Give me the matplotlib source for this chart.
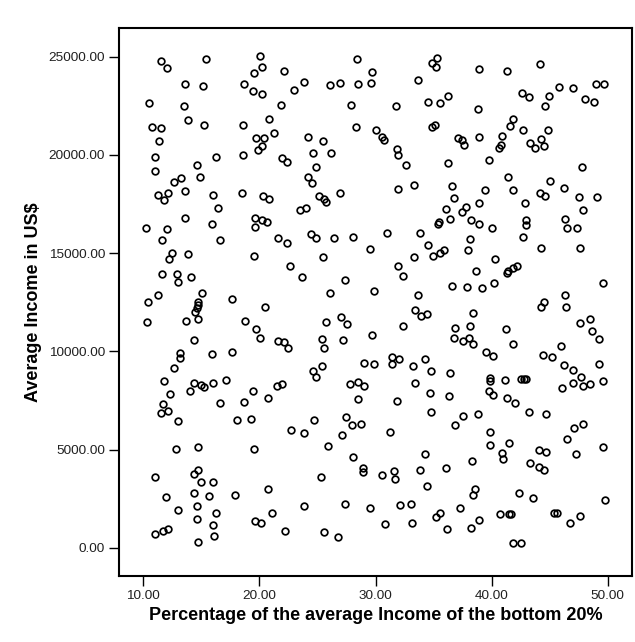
import matplotlib.pyplot as plt
from matplotlib.ticker import FormatStrFormatter

# values, split in three bands (top / middle / bottom)
upper_pct = [11.5, 12.0, 15.37, 20.06, 20.2, 19.57, 22.13, 28.42, 29.66, 34.9, 35.3, 35.2, 38.88, 41.29, 44.2,
             13.59, 15.11, 18.65, 19.48, 20.26, 21.84, 22.96, 23.82, 26.12, 26.92, 28.51, 29.57, 33.62,
             10.52, 13.53, 27.9, 31.75, 34.51, 35.54, 36.23, 38.82, 42.61, 43.25, 44.97, 44.63, 45.84, 47.04, 49.0, 49.7, 48.07, 48.85,
             13.88, 20.83, 10.78, 11.53, 15.26, 18.62, 21.29, 19.68, 20.43, 20.26, 19.86, 11.35, 11.01, 16.23, 18.56, 21.92, 22.35,
             11.01, 14.63, 14.89, 12.67, 13.22, 13.59, 11.29, 12.09, 11.78, 16.03, 18.47, 20.34, 20.83,
             28.34, 30.0, 30.58, 30.72, 34.89, 35.09, 37.1, 37.44, 37.65, 24.2, 25.46, 24.63, 26.18, 24.83, 24.2, 24.54,
             31.87, 31.96, 32.59, 36.2, 25.17, 25.54, 25.75, 26.9, 31.92, 33.3, 36.61, 36.75,
             41.81, 41.58, 40.89, 40.6, 40.8, 42.67, 38.94, 44.89, 43.34, 43.73, 44.25, 44.54, 39.74, 47.8, 39.45, 41.38,
             41.87, 38.88, 42.87, 45.02, 46.23, 44.16, 44.63, 47.56, 49.05]
upper_income = [24800, 24410, 24870, 25040, 24460, 24190, 24290, 24870, 24210, 24700, 24920, 24480, 24360, 24290, 24630,
                23610, 23530, 23600, 23260, 23100, 22540, 23310, 23730, 23560, 23680, 23600, 23650, 23800,
                22630, 22490, 22540, 22490, 22680, 22630, 23020, 22320, 23170, 22930, 23000, 22510, 23470, 23420, 23600, 23620, 22870, 22690,
                21780, 21830, 21440, 21390, 21520, 21520, 21130, 20850, 20880, 20460, 20250, 20710, 19910, 19910, 20000, 19830, 19650,
                19180, 19500, 18890, 18640, 18810, 18180, 17940, 18080, 17700, 17960, 18050, 17910, 17740,
                21410, 21270, 20930, 20760, 21410, 21520, 20850, 20760, 20510, 20900, 20720, 20080, 20080, 19370, 18890, 18590,
                20290, 20000, 19470, 19600, 17910, 17740, 17620, 18080, 18250, 18450, 18420, 17790,
                21830, 21470, 20960, 20340, 20510, 21270, 20930, 21270, 20620, 20340, 20800, 20460, 19740, 19380, 18210, 18890,
                18210, 17570, 17570, 18670, 18300, 18050, 17910, 17870, 17840]

mid_pct = [16.47, 13.59, 10.2, 12.0, 11.58, 15.95, 16.61, 19.63, 20.2, 20.69, 19.63, 21.58, 22.35, 12.44, 12.22, 13.82, 19.57,
           11.58, 12.87, 12.96, 14.11, 11.23, 10.43, 15.09, 14.68, 14.68, 14.63, 14.42, 17.61, 20.49, 10.28, 13.68, 14.74, 18.77, 19.68, 20.06,
           21.58, 22.1, 22.45, 14.4, 13.19, 13.16, 12.67, 15.89, 17.67,
           23.53, 23.97, 36.06, 35.46, 35.4, 36.4, 24.4, 24.89, 26.44, 28.1, 31.0, 33.85, 29.54, 34.54, 33.3, 34.91, 35.52, 35.89,
           25.46, 22.67, 31.96, 32.39, 23.68, 27.41, 36.55, 26.09, 29.83, 33.68, 33.42, 33.88, 34.4, 25.75, 27.04, 27.53, 32.39, 36.81, 36.75,
           29.71, 25.4, 25.6, 27.18, 25.4, 24.63, 29.03, 29.91, 31.44, 32.0, 31.38, 33.22, 34.28, 34.8, 36.44,
           37.44, 37.78, 47.9, 38.22, 38.94, 40.03, 42.96, 42.96, 42.67, 46.35, 46.47, 47.39, 38.13, 37.93, 44.22, 47.61, 40.28,
           41.3, 41.45, 41.85, 42.2, 38.62, 37.87, 39.2, 40.2, 49.57, 46.32, 46.41, 44.51, 44.25, 38.39, 48.47, 47.65, 48.65, 49.28,
           38.1, 37.5, 38.05, 38.4, 41.23, 41.87, 45.97, 39.51, 40.15, 44.4, 45.17, 49.28, 46.27, 46.98]
mid_income = [17280, 16770, 16260, 16210, 15670, 16480, 15670, 16770, 16690, 16600, 16350, 15750, 15500, 14990, 14700, 14940, 14870,
              13940, 13940, 13540, 13800, 12870, 12530, 12950, 12490, 12350, 12220, 12010, 12650, 12240, 11480, 11540, 11640, 11540, 11140, 10690,
              10520, 10490, 10150, 10580, 9900, 9640, 9140, 9850, 9980,
              17200, 17320, 17250, 16600, 16470, 16740, 15960, 15750, 15750, 15820, 16040, 16020, 15210, 15410, 14800, 14840, 15020, 15170,
              14820, 14340, 14340, 13850, 13780, 13620, 13330, 12970, 13070, 12870, 12090, 11800, 11880, 11480, 11730, 11390, 11270, 11200, 10660,
              10830, 10610, 10180, 10560, 9270, 9010, 9390, 9340, 9730, 9610, 9370, 9240, 9610, 9010, 8880,
              17110, 17360, 17200, 16690, 16470, 16260, 16690, 16430, 15800, 16740, 16290, 16290, 15720, 15170, 15280, 15280, 14720,
              13980, 14080, 14230, 14370, 14070, 13280, 13240, 13490, 13460, 12870, 12270, 12490, 12240, 11950, 11630, 11430, 11030, 10640,
              11280, 10550, 10660, 10400, 11120, 10360, 10270, 9980, 9780, 9810, 9730, 9370, 9300, 9050]

low_pct = [11.81, 14.4, 14.97, 15.26, 14.03, 16.03, 17.09, 12.3, 11.72, 11.52, 12.16, 13.02, 16.61, 19.42, 18.68, 20.72, 21.49, 21.92, 18.1, 19.25, 22.75,
           12.79, 14.68, 19.57, 11.01, 14.4, 14.68, 14.97, 16.03, 11.92, 14.6, 15.66, 17.9, 20.72, 12.96, 16.23, 14.63, 16.03, 19.63, 20.14,
           21.12, 22.22, 11.01, 11.72, 12.16, 16.09, 14.74, 14.4,
           24.89, 27.84, 28.5, 29.03, 28.5, 31.87, 33.39, 34.71, 36.32, 34.8, 36.84, 24.68, 23.82, 27.47, 27.99, 28.73, 27.13, 31.21, 25.89, 28.05, 34.25,
           28.9, 28.9, 30.52, 31.58, 31.66, 33.85, 36.03, 34.43, 25.34, 23.82, 27.35, 29.54, 32.13, 33.08, 35.52, 35.17, 33.16, 30.8, 36.12, 25.54, 26.75,
           39.9, 39.9, 41.15, 42.5, 42.75, 43.0, 39.8, 40.09, 41.29, 42.04, 43.19, 44.68, 46.06, 47.04, 47.7, 47.9, 48.47, 49.63, 37.5, 38.79,
           39.86, 39.86, 41.53, 40.89, 40.95, 44.05, 44.68, 43.3, 44.05, 44.54, 46.47, 47.84, 47.13, 47.27, 49.57, 38.28, 38.59, 38.42, 42.33,
           43.53, 49.8, 37.27, 38.94, 38.22, 40.72, 41.47, 41.67, 45.4, 45.6, 46.75, 47.64, 41.81, 42.53]
low_income = [8490, 8400, 8280, 8170, 7980, 8400, 8540, 7830, 7300, 6870, 6980, 6450, 7400, 7990, 7450, 7610, 8230, 8340, 6500, 6550, 6000,
              5030, 5110, 5030, 3620, 3750, 3960, 3360, 3330, 2570, 2120, 2650, 2680, 2990, 1920, 1780, 1480, 1160, 1380, 1270,
              1780, 870, 730, 870, 940, 600, 310, 2810,
              8710, 8340, 8450, 8230, 7560, 7490, 8370, 7860, 7720, 6930, 6250, 6500, 5860, 6640, 6250, 6330, 5740, 5910, 5180, 4620, 4770,
              4090, 3870, 3700, 3920, 3530, 3990, 4090, 3160, 3620, 2120, 2230, 2020, 2170, 2230, 1780, 1550, 1290, 1240, 970, 830, 560,
              8650, 8480, 8540, 8600, 8600, 8600, 7990, 7780, 7610, 7350, 6930, 6840, 8120, 8400, 8710, 8230, 8340, 8500, 6710, 6840,
              5910, 5230, 5350, 4840, 4550, 4970, 4890, 4300, 4120, 3990, 5520, 6330, 6080, 4770, 5140, 4430, 3020, 2680, 2770,
              2520, 2460, 2010, 1410, 990, 1750, 1720, 1720, 1780, 1780, 1270, 1610, 250, 250]

x_ticks = [10, 20, 30, 40, 50]
y_ticks = [0, 5000, 10000, 15000, 20000, 25000]

plt.rcParams['font.family'] = ['Liberation Sans', 'DejaVu Sans']

fig = plt.figure(figsize=(6.35, 6.42), dpi=100)
ax = fig.add_axes([0.1874, 0.1028, 0.8080, 0.8536])

x_vals = upper_pct + mid_pct + low_pct
y_vals = upper_income + mid_income + low_income
ax.plot(x_vals, y_vals, linestyle='none', marker='o', markersize=4.8,
        markerfacecolor='none', markeredgecolor='black', markeredgewidth=1.25)

ax.set_xlim(7.9, 52.1)
ax.set_ylim(-1430, 26460)
ax.set_xticks(x_ticks)
ax.set_yticks(y_ticks)
ax.xaxis.set_major_formatter(FormatStrFormatter('%.2f'))
ax.yaxis.set_major_formatter(FormatStrFormatter('%.2f'))
ax.tick_params(direction='out', length=7.5, width=1.0, labelsize=9.7,
               labelcolor='#202020', pad=2.5)

for side in ax.spines.values():
    side.set_linewidth(1.5)

ax.set_xlabel('Percentage of the average Income of the bottom 20%',
              fontsize=13, fontweight='bold', labelpad=4)
ax.set_ylabel('Average Income in US$', fontsize=13, fontweight='bold', labelpad=5)

plt.savefig('out.png', dpi=100)
plt.close()
